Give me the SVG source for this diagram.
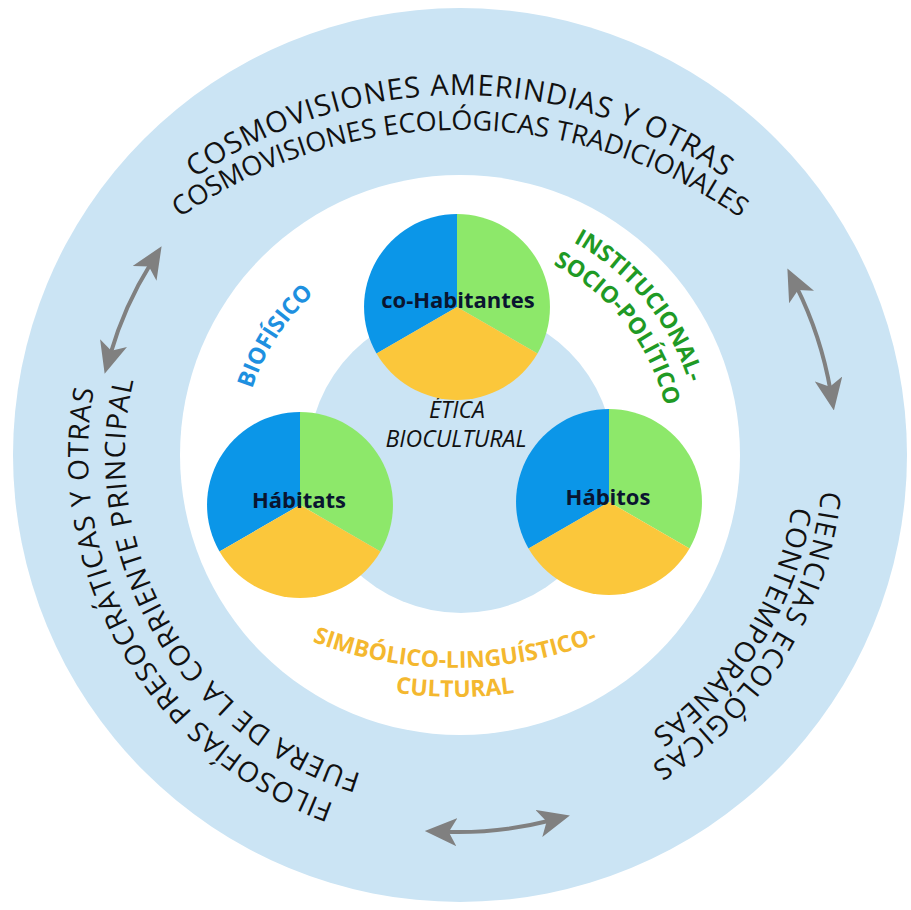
<svg xmlns="http://www.w3.org/2000/svg" width="911" height="910" viewBox="0 0 911 910">
<style>
.ring{fill:#cbe4f4}
.white{fill:#ffffff}
.blue{fill:#0b96e8}
.green{fill:#8de86a}
.yellow{fill:#fbc73b}
.pielabel{font-family:"Open Sans","Liberation Sans",sans-serif;font-weight:700;font-size:22px;fill:#0a1530;text-anchor:middle}
.outer{font-family:"Open Sans","Liberation Sans",sans-serif;font-size:28px;fill:#111111;letter-spacing:1px;text-anchor:middle}
.dim{font-family:"Open Sans","Liberation Sans",sans-serif;font-weight:700;font-size:23px;text-anchor:middle}
.center{font-family:"Open Sans","Liberation Sans",sans-serif;font-style:italic;font-size:23px;fill:#111111;text-anchor:middle}
.arrow{fill:none;stroke:#808080;stroke-width:4}
</style>
<defs>
<path id="pTop1" d="M57.3,327.5 A465,465 0 0 1 862.7,327.5"/>
<path id="pTop2" d="M35.6,375 A490,490 0 0 1 884.4,375"/>
<path id="pLeft1" d="M458,825 A370,370 0 0 1 137.6,270"/>
<path id="pLeft2" d="M458,788 A333,333 0 0 1 169.6,288.5"/>
<path id="pRight1" d="M780.3,283.6 A365,365 0 0 1 445.3,819.8"/>
<path id="pRight2" d="M756.4,296.3 A338,338 0 0 1 446.2,792.8"/>
<path id="pBio" d="M265.5,553.1 A216,216 0 0 1 469.3,239.3"/>
<path id="pInst1" d="M418.1,216.3 A242,242 0 0 1 684.7,539.7"/>
<path id="pInst2" d="M428.5,244.8 A212,212 0 0 1 656.2,531.7"/>
<path id="pSim1" d="M205,580 A400,400 0 0 0 705,580"/>
<path id="pSim2" d="M205,616.6 A429,429 0 0 0 705,616.6"/>
<marker id="ah" viewBox="0 0 32 28" refX="12" refY="14" markerWidth="32" markerHeight="28" markerUnits="userSpaceOnUse" orient="auto-start-reverse">
<path d="M0,0 L32,14 L0,28 L8,14 Z" fill="#808080"/>
</marker>
</defs>
<rect width="911" height="910" fill="#ffffff"/>
<g id="outer-ring">
<circle class="ring" cx="460" cy="455" r="447"/>
<circle class="white" cx="460" cy="455" r="280"/>
</g>
<g id="etica-biocultural">
<circle class="ring" cx="461" cy="460" r="153"/>
<text class="center" x="457" y="418">ÉTICA</text>
<text class="center" x="456" y="447">BIOCULTURAL</text>
</g>
<g id="cosmovisiones">
<text class="outer" style="font-size:29px"><textPath href="#pTop1" startOffset="50%">COSMOVISIONES AMERINDIAS Y OTRAS</textPath></text>
<text class="outer" style="font-size:27px;letter-spacing:0px"><textPath href="#pTop2" startOffset="50%">COSMOVISIONES ECOLÓGICAS TRADICIONALES</textPath></text>
</g>
<g id="filosofias">
<text class="outer"><textPath href="#pLeft1" startOffset="50%">FILOSOFÍAS PRESOCRÁTICAS Y OTRAS</textPath></text>
<text class="outer"><textPath href="#pLeft2" startOffset="50%">FUERA DE LA CORRIENTE PRINCIPAL</textPath></text>
</g>
<g id="ciencias">
<text class="outer" style="letter-spacing:2px"><textPath href="#pRight1" startOffset="50%">CIENCIAS ECOLÓGICAS</textPath></text>
<text class="outer"><textPath href="#pRight2" startOffset="50%">CONTEMPORÁNEAS</textPath></text>
</g>
<g id="dim-biofisico">
<text class="dim" fill="#1e90e0"><textPath href="#pBio" startOffset="50%">BIOFÍSICO</textPath></text>
</g>
<g id="dim-institucional">
<text class="dim" fill="#1f9a25"><textPath href="#pInst1" startOffset="50%">INSTITUCIONAL-</textPath></text>
<text class="dim" fill="#1f9a25"><textPath href="#pInst2" startOffset="50%">SOCIO-POLÍTICO</textPath></text>
</g>
<g id="dim-simbolico">
<text class="dim" fill="#f4b82f"><textPath href="#pSim1" startOffset="50%">SIMBÓLICO-LINGUÍSTICO-</textPath></text>
<text class="dim" fill="#f4b82f"><textPath href="#pSim2" startOffset="50%">CULTURAL</textPath></text>
</g>
<g id="co-habitantes">
<path class="blue" d="M457,307 L457,214 A93,93 0 0 0 376.5,353.5 Z"/>
<path class="green" d="M457,307 L457,214 A93,93 0 0 1 537.5,353.5 Z"/>
<path class="yellow" d="M457,307 L537.5,353.5 A93,93 0 0 1 376.5,353.5 Z"/>
<text class="pielabel" x="458" y="308">co-Habitantes</text>
</g>
<g id="habitats">
<path class="blue" d="M300,505 L300,412 A93,93 0 0 0 219.5,551.5 Z"/>
<path class="green" d="M300,505 L300,412 A93,93 0 0 1 380.5,551.5 Z"/>
<path class="yellow" d="M300,505 L380.5,551.5 A93,93 0 0 1 219.5,551.5 Z"/>
<text class="pielabel" x="299" y="508">Hábitats</text>
</g>
<g id="habitos">
<path class="blue" d="M609,502 L609,409 A93,93 0 0 0 528.5,548.5 Z"/>
<path class="green" d="M609,502 L609,409 A93,93 0 0 1 689.5,548.5 Z"/>
<path class="yellow" d="M609,502 L689.5,548.5 A93,93 0 0 1 528.5,548.5 Z"/>
<text class="pielabel" x="608" y="505">Hábitos</text>
</g>
<g id="connectors">
<path class="arrow" d="M151,263.2 A362,362 0 0 0 110.2,354.6" marker-start="url(#ah)" marker-end="url(#ah)"/>
<path class="arrow" d="M796.3,286.3 A378,378 0 0 1 830.5,390.7" marker-start="url(#ah)" marker-end="url(#ah)"/>
<path class="arrow" d="M444.8,831.8 A377,377 0 0 0 550.5,820.5" marker-start="url(#ah)" marker-end="url(#ah)"/>
</g>
</svg>
